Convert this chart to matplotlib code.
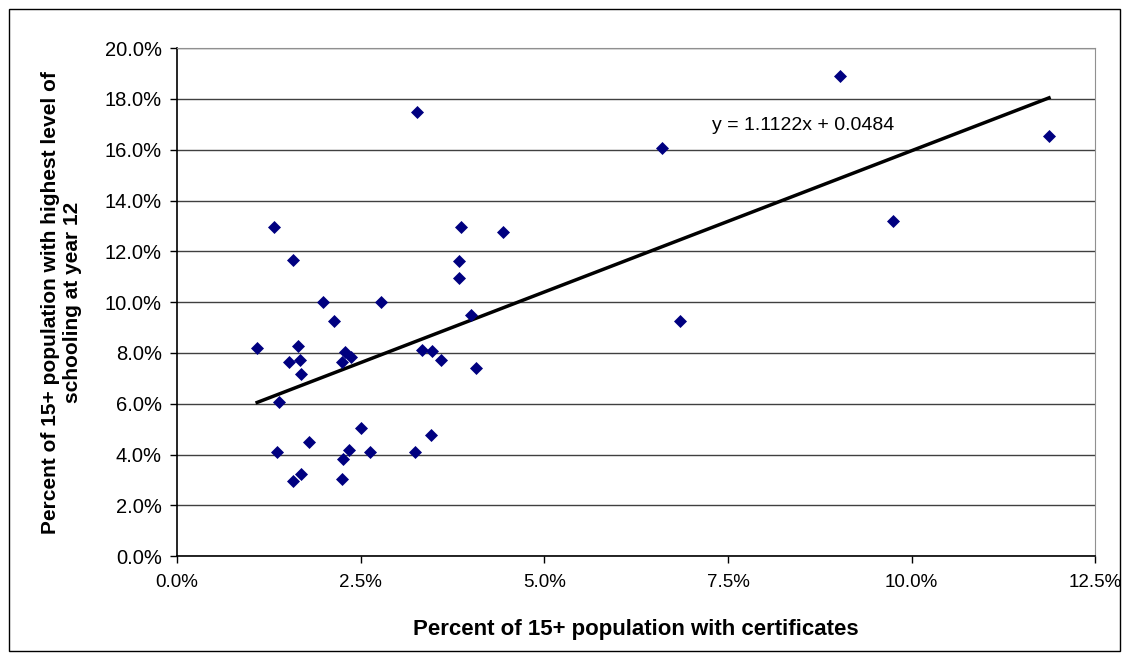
import numpy as np
import matplotlib.pyplot as plt
from matplotlib.ticker import FuncFormatter, MultipleLocator
from matplotlib.patches import Rectangle

plt.rcParams['font.family'] = ['Liberation Sans', 'DejaVu Sans']

# percent of 15+ population with certificates
cert = [3.26, 1.32, 1.58, 3.86, 4.44, 3.84, 3.84,
        1.99, 2.78, 2.13, 4.00, 1.09, 1.64, 1.53, 1.67, 1.69,
        2.28, 2.37, 2.24, 3.33, 3.47, 3.59, 4.07, 1.39, 2.50,
        3.45, 1.79, 1.36, 2.34, 2.62, 3.24, 2.26, 1.69, 1.58, 2.24,
        6.60, 9.03, 11.87, 9.74, 6.85]
# percent with highest level of schooling at year 12
year12 = [17.48, 12.94, 11.67, 12.94, 12.75, 11.61, 10.95,
          10.00, 10.00, 9.27, 9.49, 8.19, 8.27, 7.66, 7.73, 7.18,
          8.02, 7.86, 7.66, 8.13, 8.06, 7.73, 7.39, 6.06, 5.04,
          4.78, 4.50, 4.09, 4.17, 4.09, 4.09, 3.83, 3.23, 2.97, 3.02,
          16.07, 18.89, 16.54, 13.20, 9.25]

# linear trend shown on the chart
slope = 1.1122
intercept = 0.0484

x = np.array(cert) / 100
y = np.array(year12) / 100

fig = plt.figure(figsize=(11.28, 6.59), dpi=100)
ax = fig.add_axes([0.157, 0.156, 0.814, 0.771])

ax.grid(axis='y', color='#404040', linewidth=1)
ax.set_axisbelow(True)
ax.scatter(x, y, marker='D', s=44, color='#000080', zorder=3, linewidths=0)

xs = np.array([x.min(), x.max()])
ax.plot(xs, slope * xs + intercept, color='black', linewidth=2.5, zorder=2)
ax.text(0.0728, 0.1695, f"y = {slope}x + {intercept}", fontsize=14, va='center', ha='left')

ax.set_xlim(0, 0.125)
ax.set_ylim(0, 0.20)
ax.xaxis.set_major_locator(MultipleLocator(0.025))
ax.yaxis.set_major_locator(MultipleLocator(0.02))
pct = FuncFormatter(lambda v, p: f"{v * 100:.1f}%")
ax.xaxis.set_major_formatter(pct)
ax.yaxis.set_major_formatter(pct)
ax.tick_params(direction='out', length=5, width=1, color='black')
ax.tick_params(axis='y', labelsize=14.5, pad=6)
ax.tick_params(axis='x', labelsize=13.5, pad=8)

for side in ['top', 'right']:
    ax.spines[side].set_color('#909090')
for side in ['left', 'bottom']:
    ax.spines[side].set_color('black')
    ax.spines[side].set_linewidth(1.2)

ax.set_xlabel("Percent of 15+ population with certificates", fontsize=16, fontweight='bold', labelpad=20)
ax.set_ylabel("Percent of 15+ population with highest level of\nschooling at year 12", fontsize=15,
              fontweight='bold', labelpad=16)

fig.patches.append(Rectangle((0.008, 0.012), 0.985, 0.975, transform=fig.transFigure,
                             fill=False, edgecolor='black', linewidth=1))

fig.savefig("out.png", dpi=100)
